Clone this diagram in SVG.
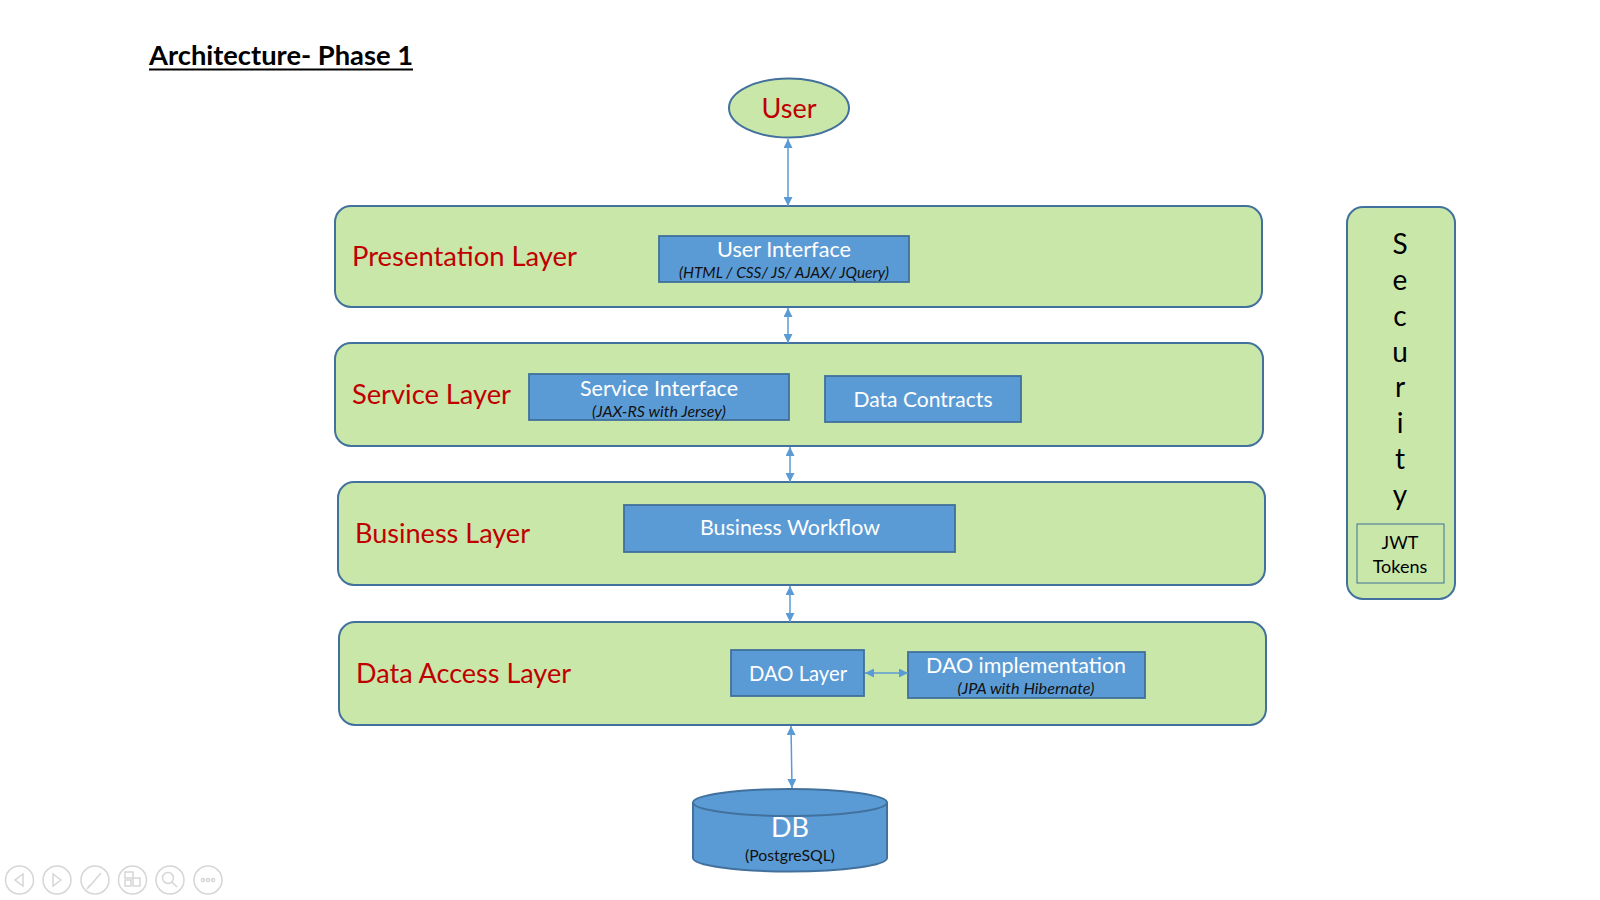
<svg xmlns="http://www.w3.org/2000/svg" width="1600" height="900" viewBox="0 0 1600 900">
<defs>
<style>
.layer{fill:#C9E7A9;stroke:#41719C;stroke-width:2}
.box{fill:#5B9BD5;stroke:#41719C;stroke-width:1.8}
.lbl{font-family:Lato,"Liberation Sans",sans-serif;font-size:26px;fill:#C00000}
.wt{font-family:Lato,"Liberation Sans",sans-serif;font-size:21px;fill:#FFFFFF;text-anchor:middle}
.it{font-family:Lato,"Liberation Sans",sans-serif;font-size:15px;font-style:italic;fill:#111111;text-anchor:middle}
.sec{font-family:Lato,"Liberation Sans",sans-serif;font-size:28px;fill:#000000;text-anchor:middle}
.blk{font-family:Lato,"Liberation Sans",sans-serif;font-size:18px;fill:#000000;text-anchor:middle}
.conn{stroke:#5B9BD5;stroke-width:1.5;fill:none;marker-start:url(#ah);marker-end:url(#ah)}
.ico{fill:none;stroke:#D6D6D6;stroke-width:1.5}
</style>
<marker id="ah" viewBox="0 0 10 10" refX="10" refY="5" markerUnits="userSpaceOnUse" markerWidth="9" markerHeight="9" orient="auto-start-reverse">
<path d="M0,0 L10,5 L0,10 z" fill="#5B9BD5"/>
</marker>
</defs>
<rect width="1600" height="900" fill="#FFFFFF"/>

<g id="title">
<text x="149" y="65" font-family="Lato,'Liberation Sans',sans-serif" font-size="27" font-weight="bold" fill="#000000" textLength="264" lengthAdjust="spacingAndGlyphs">Architecture- Phase 1</text>
<line x1="149" y1="69.5" x2="413" y2="69.5" stroke="#000000" stroke-width="2"/>
</g>

<g id="user">
<ellipse cx="789" cy="108" rx="60" ry="29.5" fill="#C9E7A9" stroke="#41719C" stroke-width="2"/>
<text x="789" y="117.5" class="lbl" font-size="27" text-anchor="middle" textLength="55" lengthAdjust="spacingAndGlyphs">User</text>
</g>

<g id="presentation-layer">
<rect class="layer" x="335" y="206" width="927" height="101" rx="16"/>
<text class="lbl" x="352" y="266" textLength="225" lengthAdjust="spacingAndGlyphs">Presentation Layer</text>
</g>
<g id="user-interface">
<rect class="box" x="659" y="236" width="250" height="46"/>
<text class="wt" x="784" y="257" textLength="134" lengthAdjust="spacingAndGlyphs">User Interface</text>
<text class="it" x="784" y="278" textLength="210" lengthAdjust="spacingAndGlyphs">(HTML / CSS/ JS/ AJAX/ JQuery)</text>
</g>

<g id="service-layer">
<rect class="layer" x="335" y="343" width="928" height="103" rx="16"/>
<text class="lbl" x="352" y="404" textLength="159" lengthAdjust="spacingAndGlyphs">Service Layer</text>
</g>
<g id="service-interface">
<rect class="box" x="529" y="374" width="260" height="46"/>
<text class="wt" x="659" y="396" textLength="158" lengthAdjust="spacingAndGlyphs">Service Interface</text>
<text class="it" x="659" y="417" textLength="134" lengthAdjust="spacingAndGlyphs">(JAX-RS with Jersey)</text>
</g>
<g id="data-contracts">
<rect class="box" x="825" y="376" width="196" height="46"/>
<text class="wt" x="923" y="407" textLength="139" lengthAdjust="spacingAndGlyphs">Data Contracts</text>
</g>

<g id="business-layer">
<rect class="layer" x="338" y="482" width="927" height="103" rx="16"/>
<text class="lbl" x="355" y="543" textLength="175" lengthAdjust="spacingAndGlyphs">Business Layer</text>
</g>
<g id="business-workflow">
<rect class="box" x="624" y="505" width="331" height="47"/>
<text class="wt" x="790" y="535" textLength="180" lengthAdjust="spacingAndGlyphs">Business Workflow</text>
</g>

<g id="data-access-layer">
<rect class="layer" x="339" y="622" width="927" height="103" rx="16"/>
<text class="lbl" x="356" y="683" textLength="215" lengthAdjust="spacingAndGlyphs">Data Access Layer</text>
</g>
<g id="dao-layer">
<rect class="box" x="731" y="650" width="133" height="46"/>
<text class="wt" x="798" y="681" textLength="98" lengthAdjust="spacingAndGlyphs">DAO Layer</text>
</g>
<g id="dao-implementation">
<rect class="box" x="908" y="652" width="237" height="46"/>
<text class="wt" x="1026" y="673" textLength="200" lengthAdjust="spacingAndGlyphs">DAO implementation</text>
<text class="it" x="1026" y="694" textLength="137" lengthAdjust="spacingAndGlyphs">(JPA with Hibernate)</text>
</g>

<g id="db">
<path d="M693,802.5 L693,858 A97,13.5 0 0 0 887,858 L887,802.5" fill="#5B9BD5" stroke="#41719C" stroke-width="2"/>
<ellipse cx="790" cy="802.5" rx="97" ry="13.5" fill="#5B9BD5" stroke="#41719C" stroke-width="2"/>
<text x="790" y="837" font-family="Lato,'Liberation Sans',sans-serif" font-size="27" fill="#FFFFFF" text-anchor="middle">DB</text>
<text x="790" y="861" font-family="Lato,'Liberation Sans',sans-serif" font-size="15" fill="#111111" text-anchor="middle" textLength="90" lengthAdjust="spacingAndGlyphs">(PostgreSQL)</text>
</g>

<g id="security">
<rect class="layer" x="1347" y="207" width="108" height="392" rx="16"/>
<text class="sec" x="1400" y="254">S</text>
<text class="sec" x="1400" y="290">e</text>
<text class="sec" x="1400" y="326">c</text>
<text class="sec" x="1400" y="361.5">u</text>
<text class="sec" x="1400" y="397">r</text>
<text class="sec" x="1400" y="433">i</text>
<text class="sec" x="1400" y="469">t</text>
<text class="sec" x="1400" y="504.5">y</text>
</g>
<g id="jwt-tokens">
<rect x="1357" y="524" width="87" height="59" fill="#C9E7A9" stroke="#41719C" stroke-width="1"/>
<text class="blk" x="1400" y="549">JWT</text>
<text class="blk" x="1400" y="573">Tokens</text>
</g>

<g id="connectors">
<line class="conn" x1="788" y1="139" x2="788" y2="206"/>
<line class="conn" x1="788" y1="308" x2="788" y2="343"/>
<line class="conn" x1="790" y1="447" x2="790" y2="482"/>
<line class="conn" x1="790" y1="586" x2="790" y2="622"/>
<line class="conn" x1="791" y1="726" x2="792" y2="788"/>
<line class="conn" x1="865" y1="673" x2="908" y2="673"/>
</g>

<g id="slide-controls">
<circle class="ico" cx="19.5" cy="880" r="14"/>
<path class="ico" d="M23,874 L15,880 L23,886 z"/>
<circle class="ico" cx="57" cy="880" r="14"/>
<path class="ico" d="M53,874 L61,880 L53,886 z"/>
<circle class="ico" cx="95" cy="880" r="14"/>
<path class="ico" d="M89,887 L101,873 M87,889 L90,885"/>
<circle class="ico" cx="132.5" cy="880" r="14"/>
<path class="ico" d="M125,872 h8 v6 h-8 z M125,880 h6 v6 h-6 z M133,878 h7 v8 h-7 z"/>
<circle class="ico" cx="170" cy="880" r="14"/>
<circle class="ico" cx="168" cy="878" r="5.5"/>
<path class="ico" d="M172,882 L177,887"/>
<circle class="ico" cx="208" cy="880" r="14"/>
<circle class="ico" cx="203" cy="880" r="1.6"/>
<circle class="ico" cx="208" cy="880" r="1.6"/>
<circle class="ico" cx="213" cy="880" r="1.6"/>
</g>
</svg>
